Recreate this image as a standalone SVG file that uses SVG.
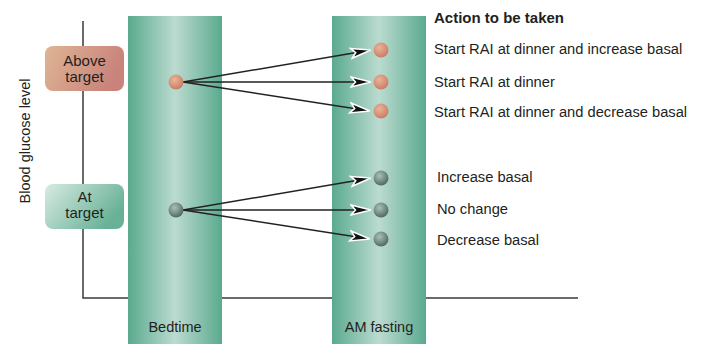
<svg xmlns="http://www.w3.org/2000/svg" width="701" height="344" viewBox="0 0 701 344">
<defs>
<style>
.t{font-family:"Liberation Sans",Arial,sans-serif;fill:#231f20;}
.r{font-size:14.7px;}
.b{font-size:15px;font-weight:bold;}
.lab{font-size:15px;text-anchor:middle;}
.col{font-size:14.5px;text-anchor:middle;}
.ax{stroke:#3a3a3a;stroke-width:1.5;fill:none;}
.con{stroke:#222;stroke-width:1.5;fill:none;marker-end:url(#ah);}
</style>
<linearGradient id="cg" x1="0" y1="0" x2="1" y2="0">
<stop offset="0" stop-color="#5aaa8e"/>
<stop offset="0.5" stop-color="#bcdbd0"/>
<stop offset="1" stop-color="#5aaa8e"/>
</linearGradient>
<linearGradient id="ag" x1="0" y1="0" x2="1" y2="0.3">
<stop offset="0" stop-color="#deb594"/>
<stop offset="1" stop-color="#c9837b"/>
</linearGradient>
<linearGradient id="tg" x1="0" y1="0" x2="1" y2="0.5">
<stop offset="0" stop-color="#d8ebe3"/>
<stop offset="1" stop-color="#68b196"/>
</linearGradient>
<radialGradient id="og" cx="0.4" cy="0.35" r="0.7">
<stop offset="0" stop-color="#eab598"/>
<stop offset="1" stop-color="#c77a61"/>
</radialGradient>
<radialGradient id="gg" cx="0.4" cy="0.35" r="0.7">
<stop offset="0" stop-color="#a9c0b8"/>
<stop offset="1" stop-color="#4a655d"/>
</radialGradient>
<marker id="ah" viewBox="0 0 22 14" refX="21" refY="7" markerWidth="22" markerHeight="14" markerUnits="userSpaceOnUse" orient="auto">
<path d="M1,2 L21,7 L1,12 L5.5,7 Z" fill="#111" stroke="#fff" stroke-width="1.5" stroke-linejoin="miter"/>
</marker>
</defs>
<rect width="701" height="344" fill="#fff"/>
<g id="axes">
<path class="ax" d="M83,21 V298 H578"/>
</g>
<g id="col-bedtime">
<rect x="128" y="16" width="94" height="328" fill="url(#cg)"/>
<text class="t col" x="175" y="332">Bedtime</text>
</g>
<g id="col-am">
<rect x="332" y="16" width="94" height="328" fill="url(#cg)"/>
<text class="t col" x="379" y="332">AM fasting</text>
</g>
<g id="ylabel">
<text class="t col" transform="translate(30,141) rotate(-90)">Blood glucose level</text>
</g>
<g id="above-target">
<rect x="45" y="46" width="79" height="45" rx="8" fill="url(#ag)"/>
<text class="t lab" x="84.5" y="66">Above</text>
<text class="t lab" x="84.5" y="82">target</text>
</g>
<g id="at-target">
<rect x="45" y="184" width="79" height="45" rx="8" fill="url(#tg)"/>
<text class="t lab" x="84.5" y="202">At</text>
<text class="t lab" x="84.5" y="218">target</text>
</g>
<g id="connectors">
<line class="con" x1="183" y1="82" x2="371" y2="50"/>
<line class="con" x1="183" y1="82" x2="371" y2="82"/>
<line class="con" x1="183" y1="82" x2="370" y2="111"/>
<line class="con" x1="183" y1="210" x2="371" y2="178"/>
<line class="con" x1="183" y1="210" x2="371" y2="210"/>
<line class="con" x1="183" y1="210" x2="370" y2="239"/>
</g>
<g id="dots">
<circle cx="176" cy="82" r="7.5" fill="url(#og)"/>
<circle cx="176" cy="210" r="7.5" fill="url(#gg)"/>
<circle cx="381" cy="50" r="7.5" fill="url(#og)"/>
<circle cx="381" cy="82" r="7.5" fill="url(#og)"/>
<circle cx="381" cy="111" r="7.5" fill="url(#og)"/>
<circle cx="381" cy="178" r="7.5" fill="url(#gg)"/>
<circle cx="381" cy="210" r="7.5" fill="url(#gg)"/>
<circle cx="381" cy="239" r="7.5" fill="url(#gg)"/>
</g>
<g id="actions">
<text class="t b" x="434" y="23">Action to be taken</text>
<text class="t r" x="434" y="54">Start RAI at dinner and increase basal</text>
<text class="t r" x="434" y="87">Start RAI at dinner</text>
<text class="t r" x="434" y="117">Start RAI at dinner and decrease basal</text>
<text class="t r" x="437" y="182">Increase basal</text>
<text class="t r" x="437" y="214">No change</text>
<text class="t r" x="437" y="245">Decrease basal</text>
</g>
</svg>
